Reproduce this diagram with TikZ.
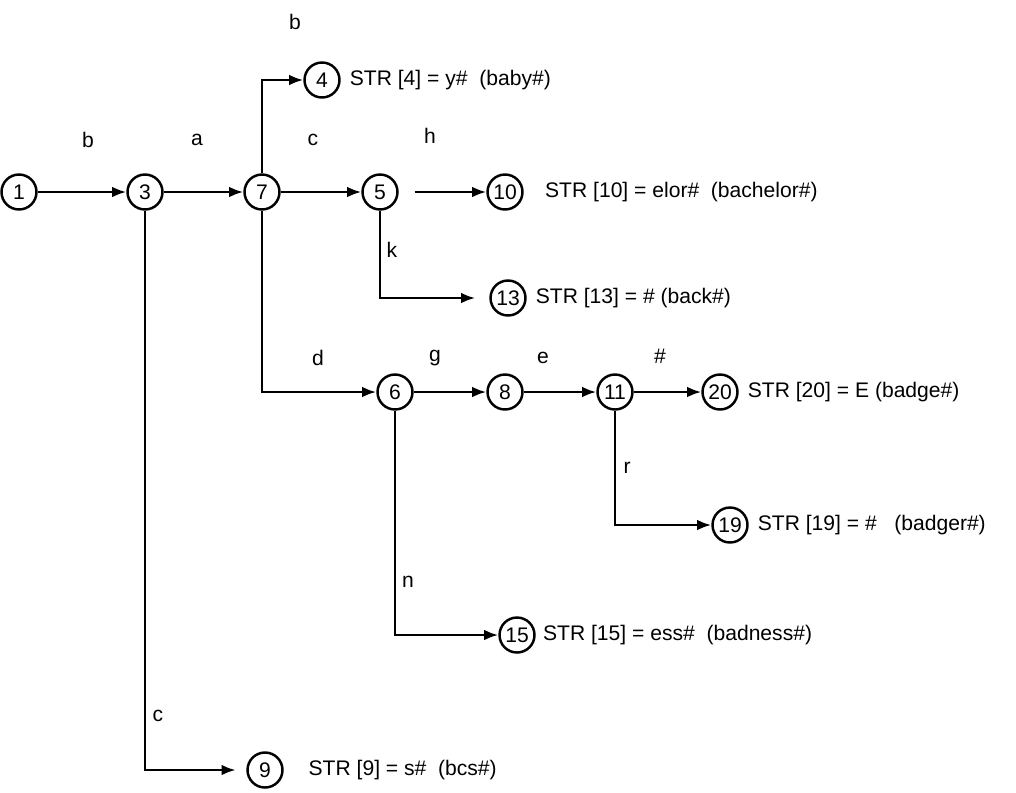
\documentclass[tikz,border=0pt]{standalone}
\usepackage{fontspec}
\setmainfont{Liberation Sans}
\usetikzlibrary{positioning, arrows.meta}

\begin{document}
\begin{tikzpicture}[
    x=0.02cm, y=-0.02cm,
    state/.style={circle, draw=black, line width=1.4pt, minimum size=0.7cm, inner sep=0pt, font=\fontsize{12}{14}\selectfont},
    arrow/.style={-{Latex[length=8pt,width=6pt]}, line width=1.4pt},
    sym/.style={font=\fontsize{12}{14}\selectfont},
    strtext/.style={anchor=west, inner sep=0pt, font=\fontsize{12}{14}\selectfont}
]
\useasboundingbox (0,0) rectangle (1016,792);

% Top row
\node[state] (n1) at (19,192) {1};
\node[state] (n3) at (145,192) {3};
\node[state] (n7) at (262,192) {7};
\node[state] (n5) at (380,192) {5};
\node[state] (n10) at (505,192) {10};
\node[state] (n4) at (322,80) {4};
\node[state] (n13) at (508,298) {13};

% Second row
\node[state] (n6) at (395,392) {6};
\node[state] (n8) at (505,392) {8};
\node[state] (n11) at (615,392) {11};
\node[state] (n20) at (720,392) {20};
\node[state] (n19) at (730,525) {19};
\node[state] (n15) at (517,635) {15};
\node[state] (n9) at (265,770) {9};

% STR entries
\node[strtext, right=5pt of n4] (t4) {STR [4] = y\#\ \ (baby\#)};
\node[strtext, right=12pt of n10] (t10) {STR [10] = elor\#\ \ (bachelor\#)};
\node[strtext, right=5pt of n13] (t13) {STR [13] = \# (back\#)};
\node[strtext, right=5pt of n20] (t20) {STR [20] = E (badge\#)};
\node[strtext, right=5pt of n19] (t19) {STR [19] = \#\ \ \ (badger\#)};
\node[strtext, right=4pt of n15] (t15) {STR [15] = ess\#\ \ (badness\#)};
\node[strtext, right=14pt of n9] (t9) {STR [9] = s\#\ \ (bcs\#)};

% Edge symbols
\node[sym] (s13) at (88,140) {b};
\node[sym] (s37) at (197,140) {a};
\node[sym] (s74) at (295,22) {b};
\node[sym] (s75) at (313,140) {c};
\node[sym] (s510) at (430,136) {h};
\node[sym] (s513) at (392,250) {k};
\node[sym] (s76) at (318,358) {d};
\node[sym] (s68) at (435,358) {g};
\node[sym] (s811) at (543,358) {e};
\node[sym] (s1120) at (660,356) {\#};
\node[sym] (s1119) at (627,468) {r};
\node[sym] (s615) at (408,582) {n};
\node[sym] (s39) at (158,716) {c};

% Arrows
\draw[arrow] (n1) -- (n3);
\draw[arrow] (n3) -- (n7);
\draw[arrow] (n7) -- (n5);
\draw[arrow, shorten <=9pt] (n5) -- (n10);
\draw[arrow] (n7.north) |- (n4);
\draw[arrow, shorten >=8pt] (n5.south) |- (n13);
\draw[arrow] (n7.south) |- (n6);
\draw[arrow] (n6) -- (n8);
\draw[arrow] (n8) -- (n11);
\draw[arrow] (n11) -- (n20);
\draw[arrow] (n11.south) |- (n19);
\draw[arrow] (n6.south) |- (n15);
\draw[arrow, shorten >=6pt] (n3.south) |- (n9);

\end{tikzpicture}
\end{document}
